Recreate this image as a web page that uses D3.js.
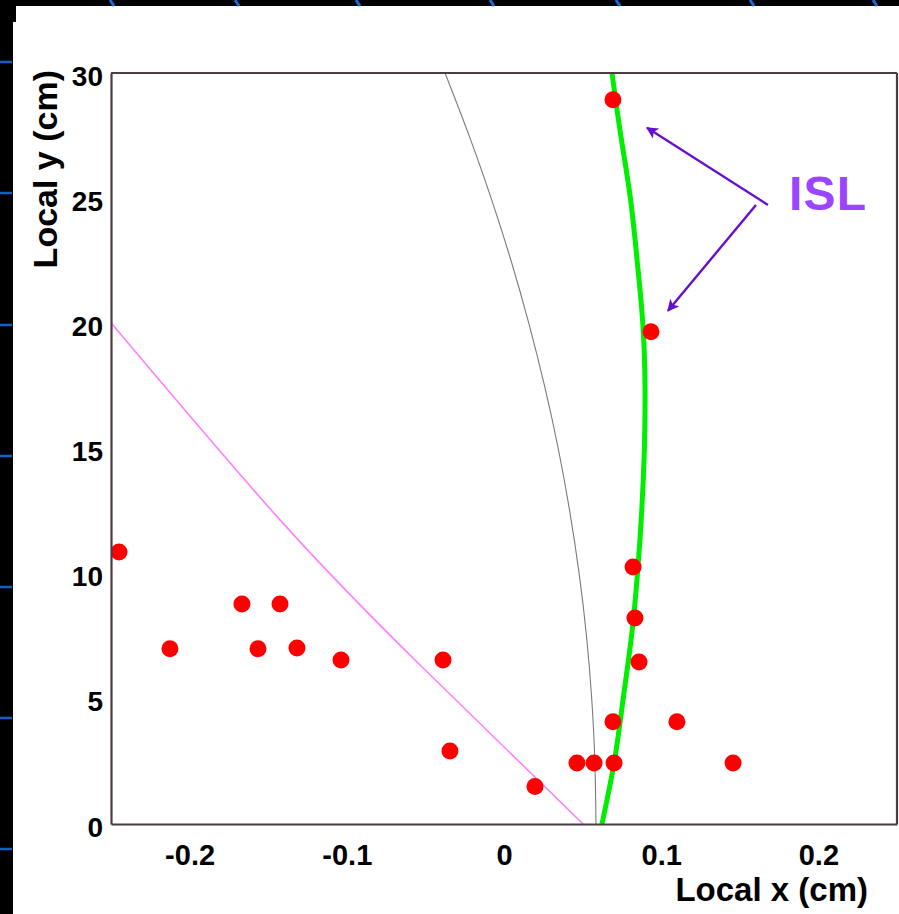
<!DOCTYPE html>
<html>
<head>
<meta charset="utf-8">
<script src="https://cdn.jsdelivr.net/npm/d3@7"></script>
<style>
  html, body { margin: 0; padding: 0; background: #000; }
  svg { display: block; }
  text { font-family: "Liberation Sans", Arial, Helvetica, sans-serif; font-weight: bold; }
</style>
</head>
<body>
<svg id="chart" width="899" height="914"></svg>
<script>
// Hits in the local (x, y) frame of the detector layer, in cm
const hitX = [-0.2449, -0.2125, -0.1667, -0.1425, -0.1565, -0.1317, -0.1037, -0.0388, -0.0344,
              0.0197, 0.0464, 0.0573, 0.0700, 0.0693, 0.1100, 0.1457, 0.0821, 0.0833, 0.0859,
              0.0935, 0.0693];
const hitY = [10.87, 7.00, 8.79, 8.79, 7.00, 7.03, 6.55, 6.55, 2.92,
              1.50, 2.44, 2.44, 2.44, 4.08, 4.08, 2.44, 10.27, 8.23, 6.47,
              19.66, 28.93];

// Fitted ISL track (green), sampled along local y
const islY = [0, 2.5, 5, 7.5, 10, 12.5, 15, 17.5, 20, 22.5, 25, 27.5, 30];
const islX = [0.0623, 0.0702, 0.0758, 0.0811, 0.0849, 0.0876, 0.0893, 0.0897, 0.0883, 0.0847, 0.0804, 0.0743, 0.0687];

// Reference trajectory (grey)
const refY = [0, 2.5, 5, 7.5, 10, 12.5, 15, 17.5, 20, 22.5, 25, 27.5, 30];
const refX = [0.0585, 0.0578, 0.0558, 0.0525, 0.0478, 0.0418, 0.0345, 0.0258, 0.0158, 0.0045, -0.0082, -0.0222, -0.0375];

// Alternative candidate (magenta)
const altX = [-0.2500, -0.1425, -0.0534, 0.0503];
const altY = [20.02, 12.15, 6.35, 0.0];

// Axis ticks
const xTicks = [-0.2, -0.1, 0, 0.1, 0.2];
const xTickLabels = ["-0.2", "-0.1", "0", "0.1", "0.2"];
const yTicks = [0, 5, 10, 15, 20, 25, 30];
const yTickLabels = ["0", "5", "10", "15", "20", "25", "30"];

// Annotation: label and arrows, in data units
const annoLabel = "ISL";
const annoLabelAt = [0.1813, 24.53];
const annoArrows = [
  { from: [0.1679, 24.73], to: [0.0910, 27.81] },
  { from: [0.1603, 24.73], to: [0.1043, 20.50] }
];

const svg = d3.select("#chart");
const W = 899, H = 914;

// Slide background: black with a white panel and a few blue guide marks
svg.append("rect").attr("x", 0).attr("y", 0).attr("width", W).attr("height", H).attr("fill", "#000");
svg.append("rect").attr("x", 16).attr("y", 6).attr("width", W - 16).attr("height", H - 6).attr("fill", "#fff");
svg.append("rect").attr("x", 13).attr("y", 22).attr("width", W - 13).attr("height", H - 22).attr("fill", "#fff");
const guideTop = [112, 237, 358, 492, 618, 752, 875];
svg.append("g").selectAll("line").data(guideTop).join("line")
  .attr("x1", d => d - 2).attr("y1", 0).attr("x2", d => d + 2).attr("y2", 6)
  .attr("stroke", "#1a6ad8").attr("stroke-width", 3);
const guideLeft = [62, 193, 325, 456, 587, 718, 849];
svg.append("g").selectAll("line").data(guideLeft).join("line")
  .attr("x1", 0).attr("x2", 12).attr("y1", d => d).attr("y2", d => d)
  .attr("stroke", "#1560c8").attr("stroke-width", 2.5);

// Plot frame
const pLeft = 111, pRight = 897, pTop = 73, pBottom = 824;
const x = d3.scaleLinear().domain([-0.25, 0.25]).range([pLeft, pRight]);
const y = d3.scaleLinear().domain([0, 30]).range([pBottom, pTop]);

const defs = svg.append("defs");
defs.append("clipPath").attr("id", "plotclip")
  .append("rect").attr("x", pLeft).attr("y", pTop).attr("width", pRight - pLeft).attr("height", pBottom - pTop);

const plot = svg.append("g").attr("clip-path", "url(#plotclip)");

const line = d3.line().x(d => x(d[0])).y(d => y(d[1])).curve(d3.curveNatural);

plot.append("path")
  .attr("d", line(altX.map((v, i) => [v, altY[i]])))
  .attr("fill", "none").attr("stroke", "#ff80ff").attr("stroke-width", 1.6);

plot.append("path")
  .attr("d", line(refX.map((v, i) => [v, refY[i]])))
  .attr("fill", "none").attr("stroke", "#7a7a7a").attr("stroke-width", 1.1);

plot.append("path")
  .attr("d", line(islX.map((v, i) => [v, islY[i]])))
  .attr("fill", "none").attr("stroke", "#00ee00").attr("stroke-width", 5);

plot.append("g").selectAll("circle").data(hitX.map((v, i) => [v, hitY[i]])).join("circle")
  .attr("cx", d => x(d[0])).attr("cy", d => y(d[1])).attr("r", 8.5)
  .attr("fill", "#ff0000");

// Frame drawn with d3 axes (no tick marks)
const xAxis = d3.axisBottom(x).tickValues(xTicks).tickSize(0).tickFormat((d, i) => xTickLabels[i]);
const yAxis = d3.axisLeft(y).tickValues(yTicks).tickSize(0).tickFormat((d, i) => yTickLabels[i]);

const gx = svg.append("g").attr("transform", `translate(0,${pBottom})`).call(xAxis);
gx.select(".domain").attr("stroke", "#4a3c40").attr("stroke-width", 2.2);
gx.selectAll("text").attr("fill", "#000").attr("font-size", 29)
  .attr("font-family", "Liberation Sans, Arial, sans-serif").attr("font-weight", "bold")
  .attr("dy", null).attr("y", 41);

const gy = svg.append("g").attr("transform", `translate(${pLeft},0)`).call(yAxis);
gy.select(".domain").attr("stroke", "#4a3c40").attr("stroke-width", 2.2);
gy.selectAll("text").attr("fill", "#000").attr("font-size", 28)
  .attr("font-family", "Liberation Sans, Arial, sans-serif").attr("font-weight", "bold")
  .attr("dy", null).attr("x", -8).attr("y", 12);

// Top and right frame edges
svg.append("line").attr("x1", pLeft).attr("x2", pRight).attr("y1", pTop).attr("y2", pTop)
  .attr("stroke", "#4a3c40").attr("stroke-width", 2.2);
svg.append("line").attr("x1", pRight).attr("x2", pRight).attr("y1", pTop).attr("y2", pBottom)
  .attr("stroke", "#4a3c40").attr("stroke-width", 2.2);

// Axis titles
svg.append("text").attr("x", 868).attr("y", 901).attr("text-anchor", "end")
  .attr("font-size", 33).attr("fill", "#000").text("Local x (cm)");
svg.append("text").attr("transform", "translate(57,70) rotate(-90)").attr("text-anchor", "end")
  .attr("font-size", 34).attr("fill", "#000").text("Local y (cm)");

// Annotation
defs.append("marker").attr("id", "arrowhead").attr("viewBox", "0 0 10 10")
  .attr("refX", 9).attr("refY", 5).attr("markerWidth", 5).attr("markerHeight", 5)
  .attr("markerUnits", "strokeWidth").attr("orient", "auto")
  .append("path").attr("d", "M0,0 L10,5 L0,10 L2.5,5 Z").attr("fill", "#6610cc");

svg.append("g").selectAll("line").data(annoArrows).join("line")
  .attr("x1", d => x(d.from[0])).attr("y1", d => y(d.from[1]))
  .attr("x2", d => x(d.to[0])).attr("y2", d => y(d.to[1]))
  .attr("stroke", "#6610cc").attr("stroke-width", 2.4)
  .attr("marker-end", "url(#arrowhead)");

svg.append("text").attr("x", x(annoLabelAt[0])).attr("y", y(annoLabelAt[1]))
  .attr("font-size", 48).attr("fill", "#9b45ff")
  .attr("textLength", 77).attr("lengthAdjust", "spacing")
  .text(annoLabel);
</script>
</body>
</html>
